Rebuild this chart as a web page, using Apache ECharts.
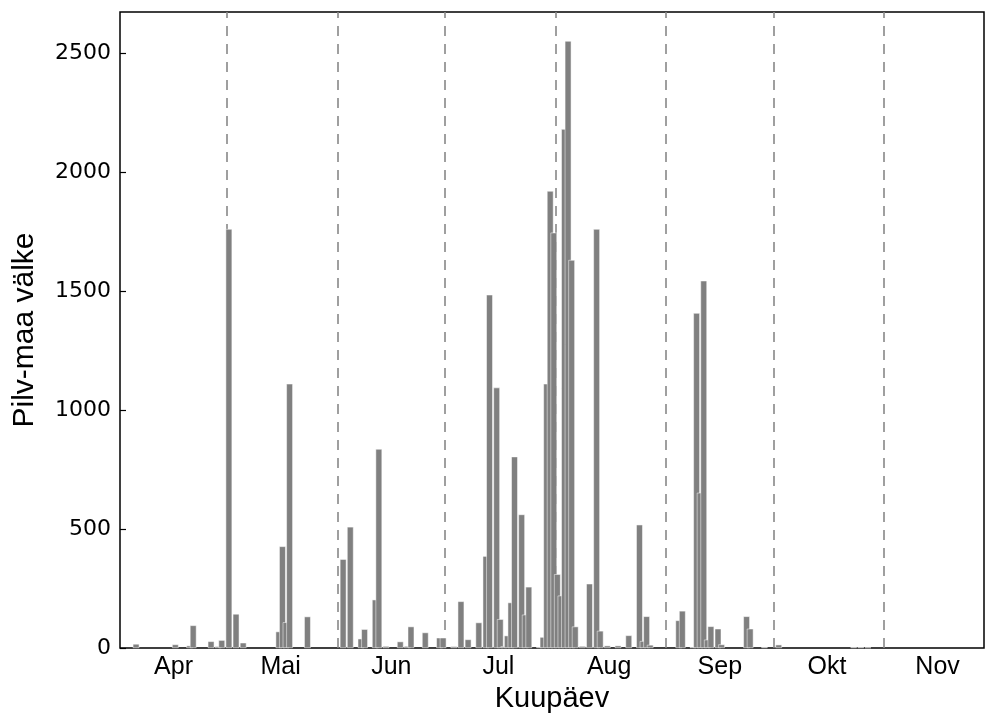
<!DOCTYPE html>
<html>
<head>
<meta charset="utf-8">
<script src="https://cdn.jsdelivr.net/npm/echarts@6/dist/echarts.min.js"></script>
<style>
html, body { margin: 0; padding: 0; background: #fff; }
#main { width: 985px; height: 715px; }
</style>
</head>
<body>
<div id="main"></div>
<script>
// paevad (MM-DD) ja pilv-maa valkude arv
var dates = [
	'04-05','04-16','04-20','04-21','04-26','04-28','04-29',
	'05-01','05-03','05-05','05-15','05-16','05-17','05-18','05-23',
	'06-02','06-04','06-07','06-08','06-11','06-12','06-14','06-18','06-20','06-21','06-25','06-29','06-30',
	'07-03','07-05','07-07','07-10','07-12','07-13','07-15','07-16','07-17','07-18','07-19','07-20',
	'07-22','07-23','07-24','07-27','07-28','07-29','07-30','07-31',
	'08-01','08-02','08-03','08-04','08-05','08-06','08-08','08-10','08-12','08-13','08-15','08-18',
	'08-21','08-24','08-25','08-26','08-27',
	'09-04','09-05','09-08','09-09','09-10','09-11','09-12','09-13','09-15','09-16','09-23','09-24','09-28',
	'10-02','10-23','10-25','10-27'
];
var strikes = [
	17, 15, 10, 95, 28, 7, 33,
	1760, 143, 22, 69, 427, 108, 1110, 132,
	373, 509, 39, 79, 203, 836, 8, 27, 8, 90, 65, 43, 43,
	7, 196, 36, 107, 386, 1484, 1094, 121, 7, 52, 191, 804,
	561, 140, 257, 4, 46, 1110, 1920, 1745,
	310, 220, 2180, 2550, 1630, 90, 8, 270, 1760, 72, 10, 10,
	53, 518, 29, 133, 13,
	116, 156, 4, 1407, 652, 1543, 35, 91, 81, 15, 133, 81, 3,
	14, 3, 3, 2
];
var monthNames = ['Apr', 'Mai', 'Jun', 'Jul', 'Aug', 'Sep', 'Okt', 'Nov'];
var monthStart = { '04': 0, '05': 30, '06': 61, '07': 91, '08': 122, '09': 153, '10': 183, '11': 214 };
var yTicks = [0, 500, 1000, 1500, 2000, 2500];

var chart = echarts.init(document.getElementById('main'));

function dayIndex(d) {
	var p = d.split('-');
	return monthStart[p[0]] + parseInt(p[1], 10) - 1;
}

var barData = [];
for (var i = 0; i < dates.length; i++) {
	barData.push([dayIndex(dates[i]) + 0.5, strikes[i]]);
}

// kuu piirid ja kuu keskkohad
var bounds = [];
var mids = [];
var keys = ['04', '05', '06', '07', '08', '09', '10', '11'];
for (var k = 0; k < keys.length; k++) {
	if (k > 0) bounds.push({ xAxis: monthStart[keys[k]] });
	mids.push(monthStart[keys[k]] + 15);
}

var option = {
	animation: false,
	grid: {
		left: 120, right: 1, top: 12, bottom: 67,
		outerBoundsMode: 'none', containLabel: false,
		show: true, borderColor: '#000', borderWidth: 1.5, backgroundColor: 'transparent'
	},
	xAxis: {
		type: 'value', min: 0, max: 242,
		name: 'Kuupäev', nameLocation: 'middle', nameGap: 30,
		nameTextStyle: { fontFamily: 'Liberation Sans', fontSize: 29, color: '#000' },
		axisLine: { show: false },
		axisTick: { show: false },
		splitLine: { show: false },
		axisLabel: {
			customValues: mids,
			margin: 7,
			fontFamily: 'Liberation Sans', fontSize: 25, color: '#000',
			formatter: function (v) {
				for (var k = 0; k < mids.length; k++) if (mids[k] === v) return monthNames[k];
				return '';
			}
		}
	},
	yAxis: {
		type: 'value', min: 0, max: 2672,
		name: 'Pilv-maa välke', nameLocation: 'middle', nameGap: 80,
		nameTextStyle: { fontFamily: 'Liberation Sans', fontSize: 30, color: '#000' },
		axisLine: { show: false },
		axisTick: { show: true, inside: true, length: 6, lineStyle: { color: '#000', width: 1.2 }, customValues: yTicks },
		splitLine: { show: false },
		axisLabel: {
			customValues: yTicks,
			margin: 9,
			fontFamily: 'DejaVu Sans', fontSize: 22, color: '#000',
			formatter: function (v) { return String(v); }
		}
	},
	series: [
		{
			type: 'line', data: [], z: 1, silent: true,
			markLine: {
				z: 1, silent: true, symbol: ['none', 'none'], label: { show: false },
				lineStyle: { color: '#888', type: [10, 8], width: 1.6 },
				data: bounds
			}
		},
		{
			type: 'bar', z: 2, data: barData, barWidth: 6.5,
			itemStyle: { color: '#808080', borderColor: '#fff', borderWidth: 0.5 }
		}
	]
};

chart.setOption(option);
</script>
</body>
</html>
